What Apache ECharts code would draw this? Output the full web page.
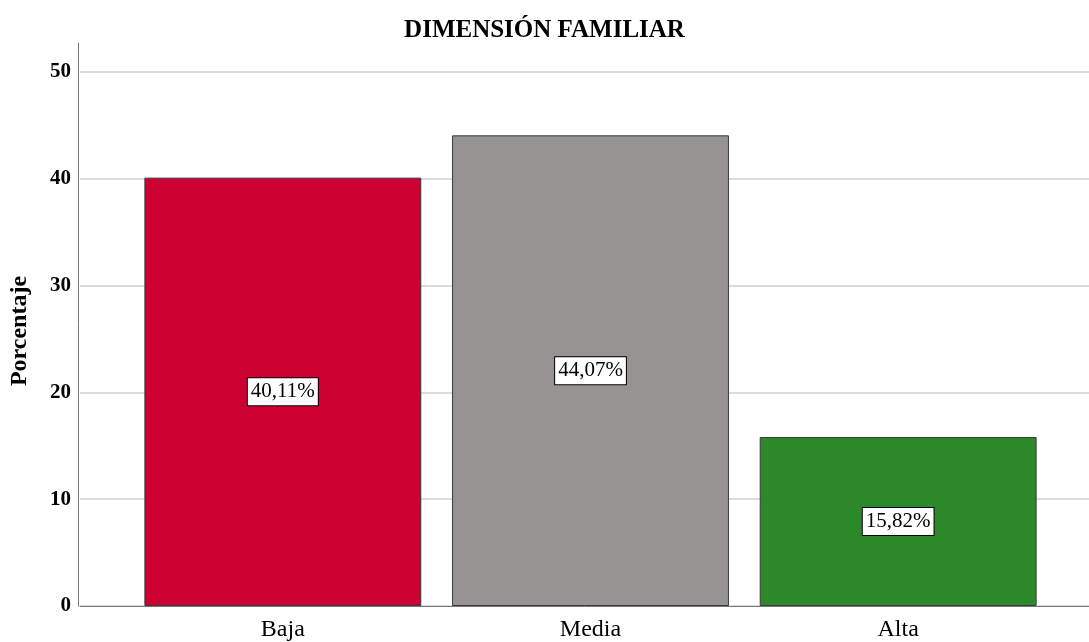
<!DOCTYPE html>
<html>
<head>
<meta charset="utf-8">
<script src="https://cdn.jsdelivr.net/npm/echarts@6/dist/echarts.min.js"></script>
<style>
  html, body { margin: 0; padding: 0; background: #fff; }
  #chart { width: 1089px; height: 642px; }
</style>
</head>
<body>
<div id="chart"></div>
<script>
// datos del gráfico
const categorias = ['Baja', 'Media', 'Alta']
const porcentajes = [40.11, 44.07, 15.82]
const colores = ['#cc0033', '#979393', '#2b892b']
const yTicks = [0, 10, 20, 30, 40, 50]

const serif = '"Liberation Serif", "DejaVu Serif", serif'

const chart = echarts.init(document.getElementById('chart'))

const option = {
  backgroundColor: '#fff',
  animation: false,
  title: {
    text: 'DIMENSIÓN FAMILIAR',
    left: 'center',
    top: 13,
    textStyle: { fontFamily: serif, fontWeight: 'bold', fontSize: 25, color: '#000' }
  },
  grid: [
    // eje Y con la línea completa
    { left: 78, right: 0, top: 43, bottom: 36 },
    // líneas de cuadrícula
    { left: 78, right: 0, top: 72, bottom: 36 },
    // barras
    { left: 129, right: 37, top: 72, bottom: 36 }
  ],
  xAxis: [
    { gridIndex: 0, type: 'category', data: [], show: false },
    {
      gridIndex: 1, type: 'category', data: [],
      axisLine: { show: true, lineStyle: { color: '#777', width: 1 } },
      axisTick: { show: false }, axisLabel: { show: false }
    },
    {
      gridIndex: 2, type: 'category', data: categorias,
      axisLine: { show: false }, axisTick: { show: false },
      axisLabel: { fontFamily: serif, fontSize: 24, color: '#000', margin: 12 }
    }
  ],
  yAxis: [
    {
      gridIndex: 0, type: 'value', min: 0, max: 52.7, interval: 10,
      axisLine: { show: true, lineStyle: { color: '#777', width: 1 } },
      axisTick: { show: false },
      splitLine: { show: false },
      axisLabel: {
        fontFamily: serif, fontWeight: 'bold', fontSize: 21, color: '#000', margin: 7,
        formatter: v => (yTicks.indexOf(v) >= 0 ? String(v) : '')
      }
    },
    {
      gridIndex: 1, type: 'value', min: 0, max: 50, interval: 10,
      name: 'Porcentaje', nameLocation: 'middle', nameGap: 48,
      nameTextStyle: {
        fontFamily: serif, fontWeight: 'bold', fontSize: 24, color: '#000',
        padding: [0, 0, 0, 16]
      },
      axisLine: { show: false }, axisTick: { show: false }, axisLabel: { show: false },
      splitLine: { show: true, lineStyle: { color: '#cfcfcf', width: 1.5 } }
    },
    { gridIndex: 2, type: 'value', min: 0, max: 50, show: false }
  ],
  series: [
    {
      type: 'bar',
      xAxisIndex: 2,
      yAxisIndex: 2,
      barCategoryGap: '10%',
      data: porcentajes.map((v, i) => ({ value: v, itemStyle: { color: colores[i] } })),
      itemStyle: { borderColor: '#3a3a3a', borderWidth: 1 },
      label: {
        show: true,
        position: 'inside',
        formatter: p => p.value.toFixed(2).replace('.', ',') + '%',
        fontFamily: serif, fontSize: 21, color: '#000',
        backgroundColor: '#fff', borderColor: '#000', borderWidth: 1,
        padding: [4, 3, 2, 3]
      }
    }
  ]
}

chart.setOption(option)
</script>
</body>
</html>
